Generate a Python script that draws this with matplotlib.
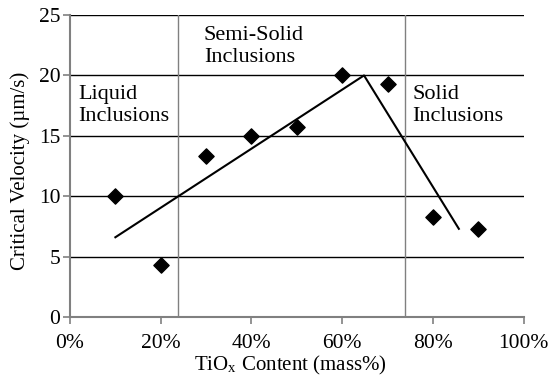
import matplotlib.pyplot as plt

plt.rcParams["font.family"] = ["Liberation Serif", "DejaVu Serif"]
plt.rcParams["mathtext.fontset"] = "stix"

# measured critical velocities
tio_content = [10, 20, 30, 40, 50, 60, 70, 80, 90]
velocity = [10.0, 4.3, 13.3, 15.0, 15.7, 20.0, 19.3, 8.3, 7.3]

# fitted trend line (rise then fall)
trend_x = [10, 64.8, 85.7]
trend_y = [6.6, 20.0, 7.3]

# region boundaries
boundaries = [23.8, 73.8]

fig = plt.figure(figsize=(5.52, 3.76), dpi=100)
ax = fig.add_axes([0.1268, 0.157, 0.822, 0.803])

for y in [5, 10, 15, 20, 25]:
    ax.axhline(y, color="black", lw=1.0, zorder=1)
for x in boundaries:
    ax.axvline(x, color="#808080", lw=1.0, zorder=1)

ax.plot(trend_x, trend_y, color="black", lw=1.5, zorder=2)
ax.scatter(tio_content, velocity, marker="D", s=60, color="black", zorder=3)

ax.set_xlim(0, 100)
ax.set_ylim(0, 25)
ax.set_xticks(range(0, 101, 20))
ax.set_xticklabels([f"{v}%" for v in range(0, 101, 20)])
ax.set_yticks(range(0, 26, 5))

for side in ["top", "right"]:
    ax.spines[side].set_visible(False)
for side in ["left", "bottom"]:
    ax.spines[side].set_color("#808080")
    ax.spines[side].set_linewidth(1.5)
ax.tick_params(direction="out", length=5, width=1.2, color="#808080",
               labelsize=15.5)
ax.tick_params(axis="x", pad=7)
ax.tick_params(axis="y", pad=2)

ax.set_xlabel(r"TiO$_\mathregular{x}$ Content (mass%)", fontsize=15)
ax.set_ylabel("Critical Velocity (\u00b5m/s)", fontsize=15)
ax.xaxis.set_label_coords(0.485, -0.124)
ax.yaxis.set_label_coords(-0.088, 0.483)

ax.text(1.8, 19.2, "Liquid\nInclusions", fontsize=16, va="top", linespacing=1.22)
ax.text(29.5, 24.1, "Semi-Solid\nInclusions", fontsize=16, va="top", linespacing=1.22)
ax.text(75.5, 19.2, "Solid\nInclusions", fontsize=16, va="top", linespacing=1.22)

fig.savefig("out.png", dpi=100)
